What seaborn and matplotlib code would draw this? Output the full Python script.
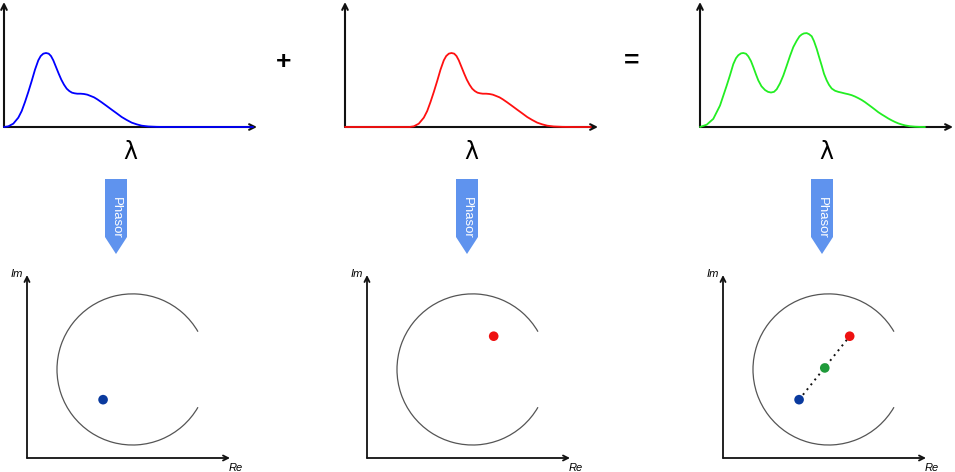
import pandas as pd
import matplotlib
matplotlib.use("Agg")
import matplotlib.pyplot as plt
from matplotlib.patches import Arc, Polygon
import seaborn as sns

# Spectra: wavelength in axis pixels from the origin,
# intensity relative to the first peak
blue_wl = [0, 4.3, 9.3, 14.3, 17.7, 21, 24.3, 27.7, 31, 34.3, 36.7, 39.3, 42, 44.7, 47, 49.3,
           52, 54.7, 57.3, 60, 62.7, 65.3, 68, 70.7, 73.3, 76.7, 80, 83.3, 86.7, 90, 93.3,
           97.7, 102.7, 107.7, 112.7, 117.7, 122.7, 127.7, 132.7, 137.7, 144.3, 152.7,
           162.7, 249]
blue_int = [0, 0.009, 0.045, 0.126, 0.216, 0.338, 0.473, 0.622, 0.775, 0.901, 0.959, 0.991,
            1.0, 0.991, 0.959, 0.901, 0.811, 0.721, 0.640, 0.572, 0.518, 0.486, 0.464, 0.455,
            0.450, 0.450, 0.446, 0.437, 0.419, 0.401, 0.374, 0.333, 0.284, 0.234, 0.185,
            0.135, 0.095, 0.059, 0.036, 0.018, 0.007, 0.002, 0, 0]

red_wl = [0, 64.5, 68.8, 73.8, 78.8, 82.2, 85.5, 88.8, 92.2, 95.5, 98.8, 101.2, 103.8, 106.5,
          109.2, 111.5, 113.8, 116.5, 119.2, 121.8, 124.5, 127.2, 129.8, 132.5, 135.2, 137.8,
          141.2, 144.5, 147.8, 151.2, 154.5, 157.8, 162.2, 167.2, 172.2, 177.2, 182.2, 187.2,
          192.2, 197.2, 202.2, 208.8, 217.2, 227.2, 246]
red_int = [0, 0, 0.009, 0.045, 0.126, 0.216, 0.338, 0.473, 0.622, 0.775, 0.901, 0.959, 0.991,
           1.0, 0.991, 0.959, 0.901, 0.811, 0.721, 0.640, 0.572, 0.518, 0.486, 0.464, 0.455,
           0.450, 0.450, 0.446, 0.437, 0.419, 0.401, 0.374, 0.333, 0.284, 0.234, 0.185, 0.135,
           0.095, 0.059, 0.036, 0.018, 0.007, 0.002, 0, 0]

green_wl = [0, 6.7, 13.3, 20, 26.7, 30, 33.3, 36, 38.3, 41, 43.3, 46, 48.3, 51, 53.3, 56, 58.3,
            61.5, 65, 68, 71, 74, 76.7, 80, 83.3, 86.5, 90, 93.3, 96.7, 99.5, 101.7, 104, 106.7,
            109, 111.7, 114, 116.7, 119, 121.7, 124, 126.7, 129, 131.7, 135, 138.3, 141.5,
            145, 148.3, 151.7, 155, 158.3, 161.7, 165, 168.3, 171.7, 175, 178.3, 181.7, 185,
            188.3, 191.7, 195, 198.3, 201.7, 205, 210, 215, 220, 225]
green_int = [0, 0.031, 0.11, 0.29, 0.56, 0.70, 0.85, 0.93, 0.97, 0.995, 1.0, 0.99, 0.955, 0.89,
             0.81, 0.71, 0.63, 0.55, 0.50, 0.475, 0.466, 0.475, 0.51, 0.59, 0.695, 0.82, 0.96,
             1.08, 1.166, 1.225, 1.25, 1.265, 1.269, 1.255, 1.226, 1.16, 1.056, 0.95, 0.83,
             0.72, 0.63, 0.57, 0.52, 0.49, 0.475, 0.465, 0.453, 0.443, 0.43, 0.412, 0.39,
             0.365, 0.336, 0.303, 0.269, 0.235, 0.2, 0.17, 0.143, 0.115, 0.09, 0.068, 0.049,
             0.034, 0.022, 0.01, 0.004, 0.001, 0]

# Phasor positions (g, s), unit circle centred at (0, 0)
blue_phasor = (-0.39, -0.40)
red_phasor = (0.28, 0.44)
mix_phasor = (-0.05, 0.02)

BLUE, RED, GREEN = "#0000ff", "#ff1010", "#22ee22"
DOT_BLUE, DOT_RED, DOT_GREEN = "#0a3a9e", "#ee1111", "#1f9a3a"
W, H = 955, 472


def px_axes(fig, x0, y0, w, h):
    # axes placed by pixel position (origin at x0, y0 measured from the top)
    return fig.add_axes([x0 / W, (H - y0) / H, w / W, h / H])


def axis_arrows(ax, lw, scale):
    for tip in [(1, 0), (0, 1)]:
        ax.annotate("", xy=tip, xytext=(0, 0), xycoords="axes fraction",
                    annotation_clip=False,
                    arrowprops=dict(arrowstyle="->", lw=lw, color="#111111",
                                    shrinkA=0, shrinkB=0, mutation_scale=scale))


def draw_spectrum(ax, wl, inten, color):
    df = pd.DataFrame({"wl": wl, "intensity": inten})
    sns.lineplot(data=df, x="wl", y="intensity", color=color, lw=1.3, sort=False, ax=ax)
    for line in ax.lines:
        line.set_clip_on(False)
        line.set_zorder(5)
        line.set_solid_joinstyle("round")
    ax.set_xlim(0, 253)
    ax.set_ylim(0, 125 / 74)
    ax.set_axis_off()
    axis_arrows(ax, 1.5, 10)
    ax.text(0.5, -0.2, "λ", transform=ax.transAxes, ha="center", va="center",
            fontsize=17, family="DejaVu Sans")


def draw_phasor(ax, points, colors, link=False):
    ax.add_patch(Arc((0, 0), 2, 2, theta1=30, theta2=330, color="#555555", lw=0.9))
    if link:
        ends = pd.DataFrame({"g": [blue_phasor[0], red_phasor[0]],
                             "s": [blue_phasor[1], red_phasor[1]]})
        sns.lineplot(data=ends, x="g", y="s", color="#111111", lw=1.4,
                     linestyle=(0, (1, 2.2)), sort=False, ax=ax)
    df = pd.DataFrame({"g": [p[0] for p in points], "s": [p[1] for p in points],
                       "c": colors})
    sns.scatterplot(data=df, x="g", y="s", hue="c", palette={c: c for c in colors},
                    s=48, edgecolor="none", legend=False, zorder=6, ax=ax)
    ax.set_xlim(-1.397, 1.29)
    ax.set_ylim(-1.172, 1.25)
    ax.set_axis_off()
    axis_arrows(ax, 1.3, 9)
    ax.annotate("Im", xy=(0, 1), xycoords="axes fraction", xytext=(-3, 1),
                textcoords="offset points", ha="right", va="center",
                fontsize=8, style="italic")
    ax.annotate("Re", xy=(1, 0), xycoords="axes fraction", xytext=(-1, -7),
                textcoords="offset points", ha="left", va="center",
                fontsize=8, style="italic")


def main():
    sns.set_style("white")
    plt.rcParams["font.family"] = ["Liberation Sans", "DejaVu Sans"]
    plt.rcParams["text.color"] = "black"
    fig = plt.figure(figsize=(W / 100, H / 100), dpi=100)

    # overlay for the connecting symbols and the "Phasor" arrows
    over = fig.add_axes([0, 0, 1, 1])
    over.set_xlim(0, W)
    over.set_ylim(H, 0)
    over.set_axis_off()
    over.text(284, 62, "+", ha="center", va="center", fontsize=19, fontweight="bold")
    over.text(632, 61, "=", ha="center", va="center", fontsize=19, fontweight="bold")
    for cx in [116, 467, 822]:
        over.add_patch(Polygon([(cx - 11, 179), (cx + 11, 179), (cx + 11, 237),
                                (cx, 254), (cx - 11, 237)], closed=True,
                               facecolor="#5f93ee", edgecolor="none"))
        over.text(cx, 218, "Phasor", rotation=270, ha="center", va="center",
                  color="white", fontsize=9.5)

    for x0, wl, inten, color in [(4, blue_wl, blue_int, BLUE),
                                 (345, red_wl, red_int, RED),
                                 (700, green_wl, green_int, GREEN)]:
        ax = px_axes(fig, x0, 127, 253, 125)
        draw_spectrum(ax, wl, inten, color)

    draw_phasor(px_axes(fig, 27, 458, 203, 183), [blue_phasor], [DOT_BLUE])
    draw_phasor(px_axes(fig, 367, 458, 203, 183), [red_phasor], [DOT_RED])
    draw_phasor(px_axes(fig, 723, 458, 203, 183),
                [blue_phasor, red_phasor, mix_phasor], [DOT_BLUE, DOT_RED, DOT_GREEN],
                link=True)

    fig.savefig("out.png", dpi=100)


if __name__ == "__main__":
    main()
